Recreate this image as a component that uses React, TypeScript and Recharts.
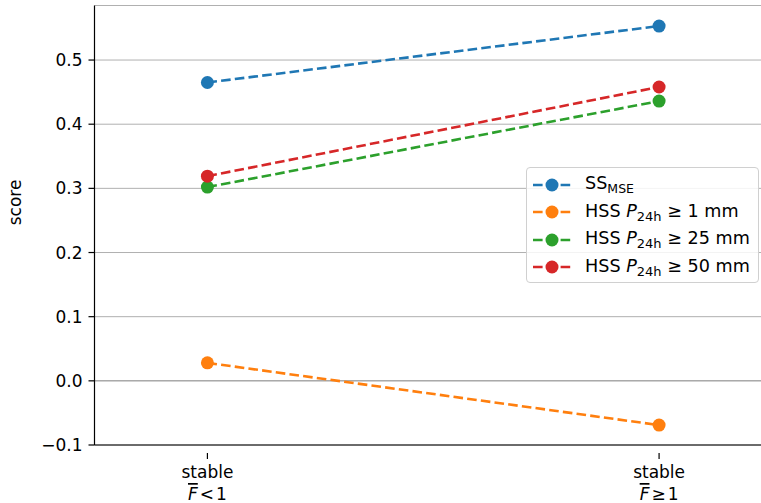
import React from 'react';
import { LineChart, Line, XAxis, YAxis, CartesianGrid, Legend, ReferenceLine } from 'recharts';

const categories = [0, 1];
const categoryLabels = [
    { top: 'stable', sym: '<' },
    { top: 'stable', sym: '≥' },
];
const ssMse = [0.465, 0.553];
const hss1 = [0.028, -0.069];
const hss25 = [0.302, 0.436];
const hss50 = [0.319, 0.458];
const yTicks = [-0.1, 0, 0.1, 0.2, 0.3, 0.4, 0.5];

const series = [
    { key: 'ss', color: '#1f77b4', values: ssMse, label: 'ss' },
    { key: 'h1', color: '#ff7f0e', values: hss1, label: '1' },
    { key: 'h25', color: '#2ca02c', values: hss25, label: '25' },
    { key: 'h50', color: '#d62728', values: hss50, label: '50' },
];

const data = categories.map((c, i) => {
    const row: any = { x: c };
    series.forEach(s => { row[s.key] = s.values[i]; });
    return row;
});

const FONT = '"DejaVu Sans", sans-serif';

const XTick = (props: any) => {
    const { x, y, payload } = props;
    const lab = categoryLabels[payload.index] || categoryLabels[0];
    return (
        <g transform={`translate(${x},${y})`}>
            <line x1={0} y1={0} x2={0} y2={6} stroke="#000" strokeWidth={1.2} />
            <text x={0} y={25} textAnchor="middle" fontSize={17} fill="#000" fontFamily={FONT}>{lab.top}</text>
            <text x={0} y={47} textAnchor="middle" fontSize={17} fill="#000" fontFamily={FONT}>
                <tspan fontStyle="italic" style={{ textDecoration: 'overline' }}>F</tspan>
                <tspan dx={2}>{lab.sym}</tspan>
                <tspan dx={2}>1</tspan>
            </text>
        </g>
    );
};

const LegendBox = () => (
    <div style={{
        width: 233, height: 116, border: '1px solid #d0d0d0', borderRadius: 4,
        background: 'rgba(255,255,255,0.85)', fontFamily: FONT, fontSize: 17.6, color: '#000',
        boxSizing: 'border-box', paddingTop: 3,
    }}>
        {series.map(s => (
            <div key={s.key} style={{ display: 'flex', alignItems: 'center', height: 27.5 }}>
                <svg width={58} height={20} style={{ flex: 'none' }}>
                    <line x1={6} y1={10} x2={44} y2={10} stroke={s.color} strokeWidth={2.6} strokeDasharray="9.6 4.2" />
                    <circle cx={25} cy={10} r={6.5} fill={s.color} />
                </svg>
                <span style={{ whiteSpace: 'nowrap' }}>
                    {s.key === 'ss' ? (
                        <>SS<sub style={{ fontSize: 12.5, verticalAlign: -4 }}>MSE</sub></>
                    ) : (
                        <>HSS <i>P</i><sub style={{ fontSize: 13, verticalAlign: -4 }}>24h</sub> ≥ {s.label} mm</>
                    )}
                </span>
            </div>
        ))}
    </div>
);

export default function App() {
    return (
        <div style={{ position: 'absolute', left: 0, top: 0, width: 761, height: 503, overflow: 'hidden', background: '#fff' }}>
            <LineChart width={772} height={503} data={data} margin={{ top: 5.5, right: 0, left: 0, bottom: 0 }}>
                <CartesianGrid vertical={false} stroke="#b0b0b0" strokeWidth={1} />
                <XAxis
                    dataKey="x" type="number" domain={[-0.25, 1.25]} ticks={categories}
                    height={58} tick={<XTick />} tickLine={false}
                    axisLine={{ stroke: '#000', strokeWidth: 1.2 }} interval={0}
                />
                <XAxis xAxisId="top" orientation="top" dataKey="x" type="number" domain={[-0.25, 1.25]}
                    height={0} tick={false} tickLine={false} axisLine={{ stroke: '#000', strokeWidth: 1.2 }} />
                <YAxis
                    type="number" domain={[-0.1, 0.585]} ticks={yTicks} width={94.5}
                    allowDataOverflow
                    tickFormatter={(v: number) => (v < 0 ? '−' + Math.abs(v).toFixed(1) : v.toFixed(1))}
                    tick={{ fontSize: 17, fill: '#000', fontFamily: FONT }}
                    tickLine={{ stroke: '#000', strokeWidth: 1.2 }} tickSize={6} tickMargin={6}
                    axisLine={{ stroke: '#000', strokeWidth: 1.2 }}
                    label={{ value: 'score', angle: -90, position: 'insideLeft', dx: 10, fontSize: 17, fill: '#000', fontFamily: FONT }}
                />
                <ReferenceLine y={0} stroke="#555" strokeWidth={0.8} strokeDasharray="1 1" />
                {series.map(s => (
                    <Line
                        key={s.key} dataKey={s.key} stroke={s.color} strokeWidth={2.6}
                        strokeDasharray="9.6 4.2" type="linear" isAnimationActive={false}
                        dot={{ r: 6.5, fill: s.color, stroke: s.color, strokeWidth: 0 }}
                    />
                ))}
                <Legend
                    layout="vertical" align="center" verticalAlign="middle"
                    content={<LegendBox />}
                    wrapperStyle={{ left: 526, top: 167, width: 233, height: 116 }}
                />
            </LineChart>
        </div>
    );
}
